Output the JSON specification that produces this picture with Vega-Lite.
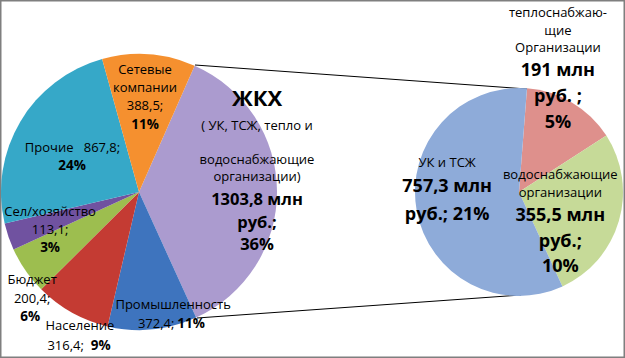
{
  "$schema": "https://vega.github.io/schema/vega-lite/v6.json",
  "width": 625,
  "height": 358,
  "autosize": "none",
  "padding": 0,
  "background": "#ffffff",
  "config": {"view": {"stroke": "#7f7f7f", "strokeWidth": 3}, "text": {"font": "Open Sans", "color": "#000000"}},
  "datasets": {
    "main": [
      {"pie": "Всего", "category": "ЖКХ", "value": 1303.8, "ord": 1, "t": ["ЖКХ"], "n": ["( УК, ТСЖ, тепло и"], "m": ["водоснабжающие", "организации)"], "b": ["1303,8 млн", "руб.;", "36%"]},
      {"pie": "Всего", "category": "Промышленность", "value": 372.4, "ord": 2, "n": ["Промышленность"], "a": ["372,4;"], "b": ["11%"]},
      {"pie": "Всего", "category": "Население", "value": 316.4, "ord": 3, "n": ["Население"], "a": ["316,4;"], "b": ["9%"]},
      {"pie": "Всего", "category": "Бюджет", "value": 200.4, "ord": 4, "n": ["Бюджет", "200,4;"], "b": ["6%"]},
      {"pie": "Всего", "category": "Сел/хозяйство", "value": 113.1, "ord": 5, "n": ["Сел/хозяйство", "113,1;"], "b": ["3%"]},
      {"pie": "Всего", "category": "Прочие", "value": 867.8, "ord": 6, "n": ["Прочие\u00a0\u00a0\u00a0867,8;"], "b": ["24%"]},
      {"pie": "Всего", "category": "Сетевые компании", "value": 388.5, "ord": 7, "n": ["Сетевые", "компании", "388,5;"], "b": ["11%"]}
    ],
    "zhkh": [
      {"pie": "ЖКХ", "category": "теплоснабжающие организации", "value": 191, "ord": 1, "n": ["теплоснабжаю-", "щие", "Организации"], "b": ["191 млн", "руб. ;", "5%"]},
      {"pie": "ЖКХ", "category": "водоснабжающие организации", "value": 355.5, "ord": 2, "n": ["водоснабжающие", "организации"], "b": ["355,5 млн", "руб.;", "10%"]},
      {"pie": "ЖКХ", "category": "УК и ТСЖ", "value": 757.3, "ord": 3, "n": ["УК и ТСЖ"], "b": ["757,3 млн", "руб.; 21%"]}
    ],
    "connectors": [
      {"x1": 195, "y1": 65, "x2": 527, "y2": 89},
      {"x1": 197, "y1": 318, "x2": 521, "y2": 295}
    ]
  },
  "layer": [
    {
      "data": {"name": "connectors"},
      "mark": {"type": "rule", "color": "#000000", "strokeWidth": 1},
      "encoding": {
        "x": {"field": "x1", "type": "quantitative", "scale": {"domain": [0, 625], "range": [0, 625], "nice": false, "zero": false}, "axis": null},
        "y": {"field": "y1", "type": "quantitative", "scale": {"domain": [0, 358], "range": [0, 358], "nice": false, "zero": false}, "axis": null},
        "x2": {"field": "x2"},
        "y2": {"field": "y2"}
      }
    },
    {
      "data": {"name": "main"},
      "encoding": {
        "theta": {"field": "value", "type": "quantitative", "stack": true, "scale": {"range": [0.415, 6.698]}},
        "order": {"field": "ord", "type": "quantitative"},
        "x": {"field": "pie", "type": "nominal", "scale": {"type": "point", "domain": ["Всего", "ЖКХ"], "range": [139, 519], "padding": 0}, "axis": null},
        "y": {"field": "pie", "type": "nominal", "scale": {"type": "point", "domain": ["Всего", "ЖКХ"], "range": [192, 192], "padding": 0}, "axis": null}
      },
      "layer": [
        {
          "mark": {"type": "arc", "outerRadius": 138},
          "encoding": {
            "color": {"field": "category", "type": "nominal", "legend": null,
              "scale": {"domain": ["ЖКХ", "Промышленность", "Население", "Бюджет", "Сел/хозяйство", "Прочие", "Сетевые компании"],
                        "range": ["#AB9BCF", "#3E74BE", "#C43B33", "#9DBE4F", "#7052A0", "#36A8C8", "#F5902F"]}}
          }
        },
        {"mark": {"type": "text", "radius": 118, "dy": -92, "fontSize": 22, "fontWeight": "bold"},
         "encoding": {"text": {"condition": {"test": "datum.category === 'ЖКХ'", "field": "t", "type": "nominal"}, "value": ""}}},
        {"mark": {"type": "text", "radius": 118, "dy": -65.6, "fontSize": 13},
         "encoding": {"text": {"condition": {"test": "datum.category === 'ЖКХ'", "field": "n", "type": "nominal"}, "value": ""}}},
        {"mark": {"type": "text", "radius": 118, "dy": -31.4, "fontSize": 13, "lineHeight": 17.5},
         "encoding": {"text": {"condition": {"test": "datum.category === 'ЖКХ'", "field": "m", "type": "nominal"}, "value": ""}}},
        {"mark": {"type": "text", "radius": 118, "dy": 9.1, "fontSize": 16.5, "fontWeight": "bold", "lineHeight": 22.5},
         "encoding": {"text": {"condition": {"test": "datum.category === 'ЖКХ'", "field": "b", "type": "nominal"}, "value": ""}}},

        {"mark": {"type": "text", "radius": 104, "dx": -1.5, "dy": -17.8, "fontSize": 13, "lineHeight": 18},
         "encoding": {"text": {"condition": {"test": "datum.category === 'Сетевые компании'", "field": "n", "type": "nominal"}, "value": ""}}},
        {"mark": {"type": "text", "radius": 104, "dx": -1.5, "dy": 36.7, "fontSize": 13.5, "fontWeight": "bold"},
         "encoding": {"text": {"condition": {"test": "datum.category === 'Сетевые компании'", "field": "b", "type": "nominal"}, "value": ""}}},

        {"mark": {"type": "text", "radius": 79, "dx": 1.5, "dy": -3.6, "fontSize": 13},
         "encoding": {"text": {"condition": {"test": "datum.category === 'Прочие'", "field": "n", "type": "nominal"}, "value": ""}}},
        {"mark": {"type": "text", "radius": 79, "dx": 1, "dy": 14.4, "fontSize": 13.5, "fontWeight": "bold"},
         "encoding": {"text": {"condition": {"test": "datum.category === 'Прочие'", "field": "b", "type": "nominal"}, "value": ""}}},

        {"mark": {"type": "text", "radius": 94, "dx": 0, "dy": -10.7, "fontSize": 13, "lineHeight": 18.3},
         "encoding": {"text": {"condition": {"test": "datum.category === 'Сел/хозяйство'", "field": "n", "type": "nominal"}, "value": ""}}},
        {"mark": {"type": "text", "radius": 94, "dx": 0, "dy": 25.6, "fontSize": 13.5, "fontWeight": "bold"},
         "encoding": {"text": {"condition": {"test": "datum.category === 'Сел/хозяйство'", "field": "b", "type": "nominal"}, "value": ""}}},

        {"mark": {"type": "text", "radius": 130, "dx": 0, "dy": 14, "fontSize": 13, "lineHeight": 19},
         "encoding": {"text": {"condition": {"test": "datum.category === 'Бюджет'", "field": "n", "type": "nominal"}, "value": ""}}},
        {"mark": {"type": "text", "radius": 130, "dx": -2, "dy": 51, "fontSize": 13.5, "fontWeight": "bold"},
         "encoding": {"text": {"condition": {"test": "datum.category === 'Бюджет'", "field": "b", "type": "nominal"}, "value": ""}}},

        {"mark": {"type": "text", "radius": 150, "dx": 14, "dy": 3, "fontSize": 13},
         "encoding": {"text": {"condition": {"test": "datum.category === 'Население'", "field": "n", "type": "nominal"}, "value": ""}}},
        {"mark": {"type": "text", "radius": 150, "dx": -0.3, "dy": 23, "fontSize": 13},
         "encoding": {"text": {"condition": {"test": "datum.category === 'Население'", "field": "a", "type": "nominal"}, "value": ""}}},
        {"mark": {"type": "text", "radius": 150, "dx": 34.7, "dy": 23, "fontSize": 13.5, "fontWeight": "bold"},
         "encoding": {"text": {"condition": {"test": "datum.category === 'Население'", "field": "b", "type": "nominal"}, "value": ""}}},

        {"mark": {"type": "text", "radius": 118, "dx": 22.5, "dy": -4.4, "fontSize": 13},
         "encoding": {"text": {"condition": {"test": "datum.category === 'Промышленность'", "field": "n", "type": "nominal"}, "value": ""}}},
        {"mark": {"type": "text", "radius": 118, "dx": 5.5, "dy": 14.6, "fontSize": 13},
         "encoding": {"text": {"condition": {"test": "datum.category === 'Промышленность'", "field": "a", "type": "nominal"}, "value": ""}}},
        {"mark": {"type": "text", "radius": 118, "dx": 40.5, "dy": 14.6, "fontSize": 13.5, "fontWeight": "bold"},
         "encoding": {"text": {"condition": {"test": "datum.category === 'Промышленность'", "field": "b", "type": "nominal"}, "value": ""}}}
      ]
    },
    {
      "data": {"name": "zhkh"},
      "encoding": {
        "theta": {"field": "value", "type": "quantitative", "stack": true, "scale": {"range": [0.077, 6.360]}},
        "order": {"field": "ord", "type": "quantitative"},
        "x": {"field": "pie", "type": "nominal", "scale": {"type": "point", "domain": ["Всего", "ЖКХ"], "range": [139, 519], "padding": 0}, "axis": null},
        "y": {"field": "pie", "type": "nominal", "scale": {"type": "point", "domain": ["Всего", "ЖКХ"], "range": [192, 192], "padding": 0}, "axis": null}
      },
      "layer": [
        {
          "mark": {"type": "arc", "outerRadius": 104},
          "encoding": {
            "color": {"field": "category", "type": "nominal", "legend": null,
              "scale": {"domain": ["теплоснабжающие организации", "водоснабжающие организации", "УК и ТСЖ"],
                        "range": ["#DE908C", "#C6DA98", "#8EABD9"]}}
          }
        },
        {"mark": {"type": "text", "radius": 76, "dy": -113.7, "fontSize": 13, "lineHeight": 17.5},
         "encoding": {"text": {"condition": {"test": "datum.category === 'теплоснабжающие организации'", "field": "n", "type": "nominal"}, "value": ""}}},
        {"mark": {"type": "text", "radius": 76, "dy": -55.7, "fontSize": 18, "fontWeight": "bold", "lineHeight": 26},
         "encoding": {"text": {"condition": {"test": "datum.category === 'теплоснабжающие организации'", "field": "b", "type": "nominal"}, "value": ""}}},

        {"mark": {"type": "text", "radius": 43, "dy": -29, "fontSize": 13, "lineHeight": 18},
         "encoding": {"text": {"condition": {"test": "datum.category === 'водоснабжающие организации'", "field": "n", "type": "nominal"}, "value": ""}}},
        {"mark": {"type": "text", "radius": 43, "dy": 12, "fontSize": 18, "fontWeight": "bold", "lineHeight": 25.5},
         "encoding": {"text": {"condition": {"test": "datum.category === 'водоснабжающие организации'", "field": "b", "type": "nominal"}, "value": ""}}},

        {"mark": {"type": "text", "radius": 73, "dy": -42, "fontSize": 13},
         "encoding": {"text": {"condition": {"test": "datum.category === 'УК и ТСЖ'", "field": "n", "type": "nominal"}, "value": ""}}},
        {"mark": {"type": "text", "radius": 73, "dy": -17.9, "fontSize": 18, "fontWeight": "bold", "lineHeight": 28},
         "encoding": {"text": {"condition": {"test": "datum.category === 'УК и ТСЖ'", "field": "b", "type": "nominal"}, "value": ""}}}
      ]
    }
  ],
  "resolve": {"scale": {"x": "independent", "y": "independent", "theta": "independent", "color": "independent"}}
}
